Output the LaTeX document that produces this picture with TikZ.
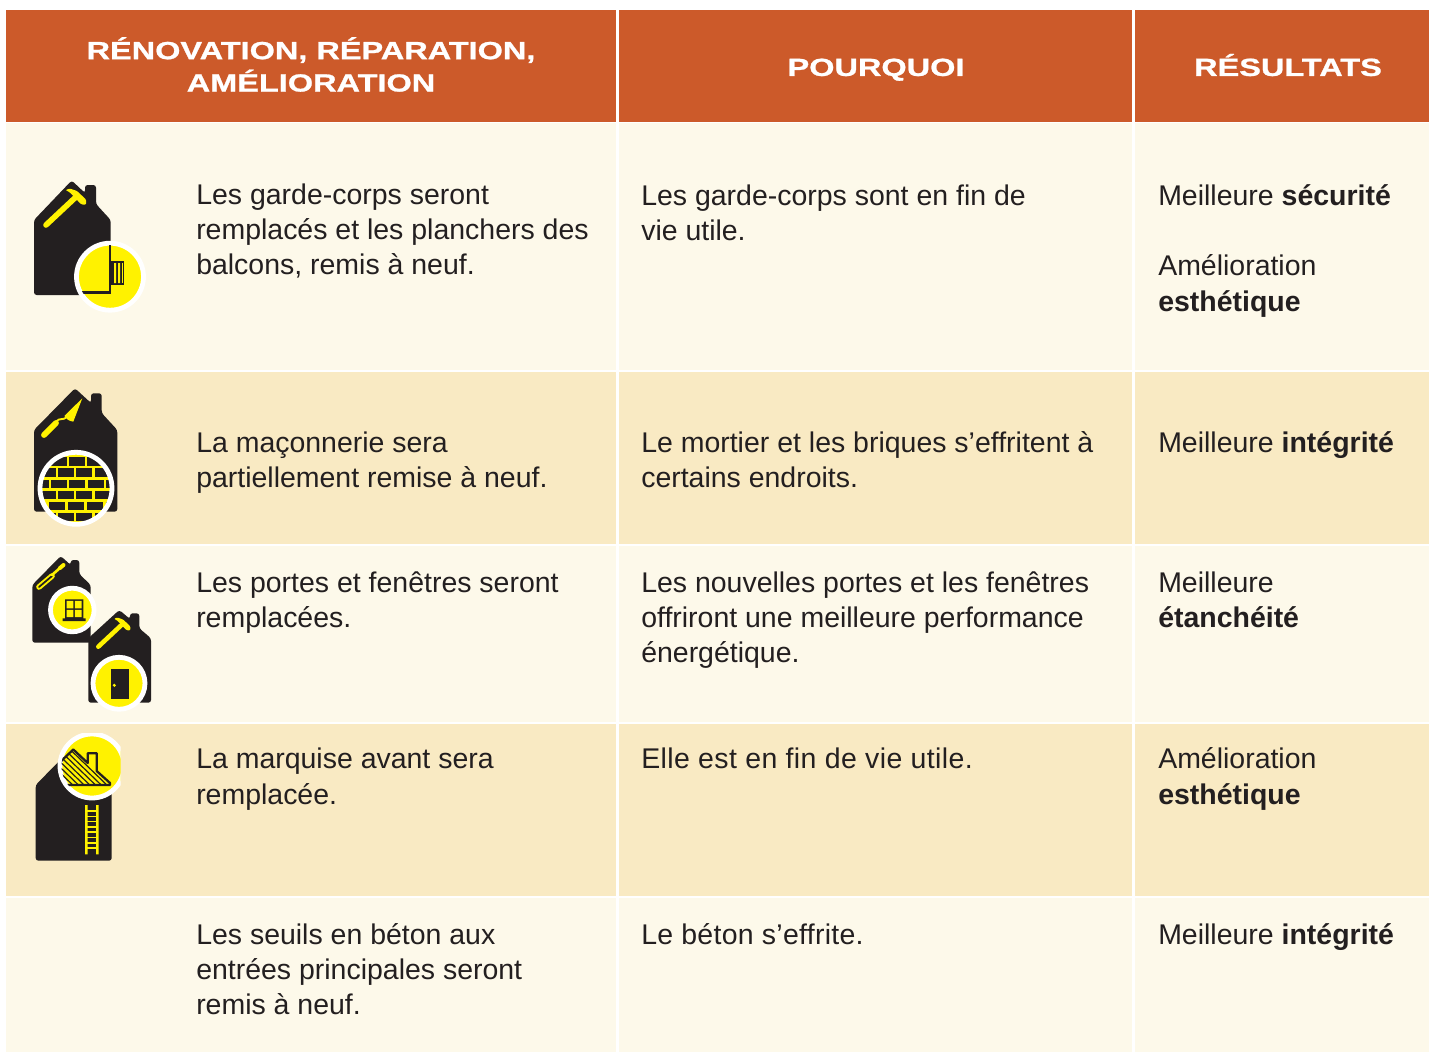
\documentclass[tikz,border=0pt]{standalone}
\usepackage{fontspec}
\setmainfont{Liberation Sans}
\newfontfamily\headfont[FakeStretch=1.31,FakeBold=1.0]{Liberation Sans Bold}
\definecolor{hdr}{HTML}{CC5A2A}
\definecolor{cream}{HTML}{FDF9EA}
\definecolor{sand}{HTML}{F9EAC3}
\definecolor{ink}{HTML}{231F20}
\definecolor{yel}{HTML}{FFF200}
\tikzset{
  x=0.75pt,y=-0.75pt,
  band/.style={fill=#1,draw=none},
  sep/.style={draw=#1,line width=1.6pt},
  cell/.style={anchor=north west,inner sep=0pt,align=left,text=ink,font=\fontsize{21.35pt}{26.25pt}\selectfont},
  head/.style={anchor=north,inner sep=0pt,align=center,text=white,font=\headfont\fontsize{18.6pt}{24.3pt}\selectfont},
  ring/.style={fill=yel,draw=white,line width=3.6pt},
  lineD/.style={draw=ink,line width=1.8pt},
  lineY/.style={draw=yel,line cap=round},
}
\newcommand{\st}{\rule{0pt}{18pt}}
\newcommand{\hst}{\rule{0pt}{20pt}}
% hammer: shift, scale, handle width
\newcommand{\hammer}[3]{%
  \begin{scope}[shift={#1},scale=#2]
    \draw[lineY,line width=#3] (0,0) -- (31,-29);
    \fill[yel,rounded corners=.8pt] (19.5,-35) -- (24,-36.4) -- (31,-34) -- (40,-25.5) -- (40.2,-20.5) -- (35.5,-20.5) -- (31,-25) -- (27,-29.5) -- (23.3,-33) -- cycle;
  \end{scope}}
\begin{document}
\begin{tikzpicture}
\useasboundingbox (0,0) rectangle (1429,1053);
\fill[white] (0,0) rectangle (1429,1053);
% bands
\fill[band=hdr] (6,10) rectangle (1429,122);
\fill[band=cream] (6,123) rectangle (1429,370);
\fill[band=sand] (6,372) rectangle (1429,544);
\fill[band=cream] (6,546) rectangle (1429,722);
\fill[band=sand] (6,724) rectangle (1429,896);
\fill[band=cream] (6,898) rectangle (1429,1052);
\draw[sep=white] (617.5,10) -- (617.5,1052);
\draw[sep=white] (1133.5,10) -- (1133.5,1052);
% header
\node[head] (h1) at (311,32.2) {\hst RÉNOVATION, RÉPARATION,\\AMÉLIORATION};
\node[head] (h2) at (876,49) {\hst POURQUOI};
\node[head] (h3) at (1288,49) {\hst RÉSULTATS};
% col 1
\node[cell] (a1) at (196,180) {\st Les garde-corps seront\\remplacés et les planchers des\\balcons, remis à neuf.};
\node[cell] (a2) at (196,428) {\st La maçonnerie sera\\partiellement remise à neuf.};
\node[cell] (a3) at (196,568) {\st Les portes et fenêtres seront\\remplacées.};
\node[cell] (a4) at (196,744) {\st La marquise avant sera\\[.6pt]remplacée.};
\node[cell] (a5) at (196,920) {\st Les seuils en béton aux\\entrées principales seront\\remis à neuf.};
% col 2
\node[cell] (b1) at (641,181) {\st Les garde-corps sont en fin de\\vie utile.};
\node[cell] (b2) at (641,428) {\st Le mortier et les briques s’effritent à\\certains endroits.};
\node[cell] (b3) at (641,568) {\st Les nouvelles portes et les fenêtres\\offriront une meilleure performance\\énergétique.};
\node[cell] (b4) at (641,744) {\addfontfeature{LetterSpace=1.4}\st Elle est en fin de vie utile.};
\node[cell] (b5) at (641,920) {\addfontfeature{LetterSpace=1.0}\st Le béton s’effrite.};
% col 3
\node[cell] (c1) at (1158,181) {\st Meilleure \textbf{sécurité}\\[26.4pt]Amélioration\\[.6pt]\textbf{esthétique}};
\node[cell] (c2) at (1158,428) {\st Meilleure \textbf{intégrité}};
\node[cell] (c3) at (1158,568) {\st Meilleure\\\textbf{étanchéité}};
\node[cell] (c4) at (1158,744) {\st Amélioration\\[.6pt]\textbf{esthétique}};
\node[cell] (c5) at (1158,920) {\st Meilleure \textbf{intégrité}};
% ---- icon 1
\fill[ink,rounded corners=2pt] (34,295) -- (34,220) -- (71.7,180.5) -- (85,193) -- (85,185) -- (96,185) -- (96,204) -- (110.7,220) -- (110.7,295) -- cycle;
\hammer{(46,225)}{1}{4.2pt}
\filldraw[ring] (110,276.7) circle (33.5);
\begin{scope}
  \clip (110,276.7) circle (31.5);
  \draw[lineD] (110,240) -- (110,292.5) -- (80,292.5);
  \fill[ink] (110.5,261) rectangle (124,285);
  \fill[yel] (114,263) rectangle (116,283) (118,263) rectangle (120,283);
  \fill[yel] (111,258) rectangle (122.5,260.3);
  \fill[yel] (122,262.5) rectangle (122.6,282.8);
\end{scope}
% ---- icon 2
\fill[ink,rounded corners=2pt] (34,511.7) -- (34,430) -- (75,388.3) -- (91,403) -- (91,393.3) -- (101.7,393.3) -- (101.7,413) -- (117.3,430) -- (117.3,511.7) -- cycle;
\fill[yel] (82.3,398.3) -- (64.3,416) .. controls (66,419) and (69,421) .. (73.3,421.7) -- cycle;
\draw[yel,line width=1.4pt] (56,422) .. controls (59,417) and (63,421) .. (67,417);
\draw[lineY,line width=4.4pt] (44,435) -- (56,423);
\fill[yel] (76,488.3) circle (36);
\begin{scope}
  \clip (76,488.3) circle (36);
  \foreach \yy/\xs in {457.3/{69,87.3,50.7},468.3/{58,76,94.5,40},479.6/{51,69,88,106,33},490.5/{58,76,94.5,40},501.5/{68,87,49,106},512.5/{58,76,94.5,40}}{
    \foreach \xx in \xs { \fill[ink] (\xx,\yy) rectangle +(16,8.3); }
  }
\end{scope}
\draw[white,line width=3.6pt] (76,488.3) circle (36);
% ---- icon 3 A
\fill[ink,rounded corners=2pt] (32.3,642.7) -- (32.3,585) -- (60.7,556) -- (70.7,565) -- (70.7,560) -- (79.3,560) -- (79.3,574) -- (90.7,585) -- (90.7,642.7) -- cycle;
\draw[lineY,line width=4.2pt] (39,587) -- (52,576);
\draw[ink,line width=1.3pt,line cap=round] (39,587) -- (52,576);
\draw[lineY,line width=2pt] (52,575) -- (60,568);
\draw[lineY,line width=3pt] (60,568) -- (63.5,565);
\filldraw[ring] (72.3,610) circle (21.8);
\fill[ink] (65,599.3) rectangle (83.3,618.8) (62.7,618.3) rectangle (85.7,621);
\fill[yel] (66.6,600.9) rectangle (73.4,608.3) (74.9,600.9) rectangle (81.7,608.3) (66.6,609.8) rectangle (73.4,617.2) (74.9,609.8) rectangle (81.7,617.2);
% ---- icon 3 B
\fill[ink,rounded corners=2pt] (88.3,702.7) -- (88.3,638.3) -- (119.3,610) -- (130,619) -- (130,613.3) -- (139.3,613.3) -- (139.3,628.3) -- (151,638.3) -- (151,702.7) -- cycle;
\hammer{(98.3,646.7)}{.8}{3.4pt}
\filldraw[ring] (119,683.3) circle (26);
\fill[ink] (111,669) rectangle (129,699.3);
\fill[yel] (114.3,685.3) circle (1.7);
% ---- icon 4
\fill[ink,rounded corners=2pt] (35.7,860.7) -- (35.7,785) -- (70,750) -- (111.7,785) -- (111.7,860.7) -- cycle;
\begin{scope}
  \clip (50,733) rectangle (120.5,810);
  \filldraw[ring] (92,766) circle (32);
  \clip (92,766) circle (30.5);
  \begin{scope}
    \clip (58,764) -- (73.3,749) -- (110,785) -- (58,785) -- cycle;
    \foreach \k in {-16,-10.5,...,50} {
      \draw[ink,line width=.9pt] (50,735+\k) -- ++(60,58);
    }
  \end{scope}
  \draw[ink,line width=1.7pt,line join=round] (58,764) -- (73.3,749.5) -- (87.7,763) -- (87.7,753.3) -- (96.7,753.3) -- (96.7,771) -- (110,783) -- (110,785) -- (60,785);
\end{scope}
\foreach \yy in {811,816.3,...,850} { \draw[yel,line width=1.1pt] (86.5,\yy) -- (97,\yy); }
\fill[yel] (85,805) rectangle (87.7,854.3) (96,805) rectangle (98.5,854.3);
\end{tikzpicture}
\end{document}
